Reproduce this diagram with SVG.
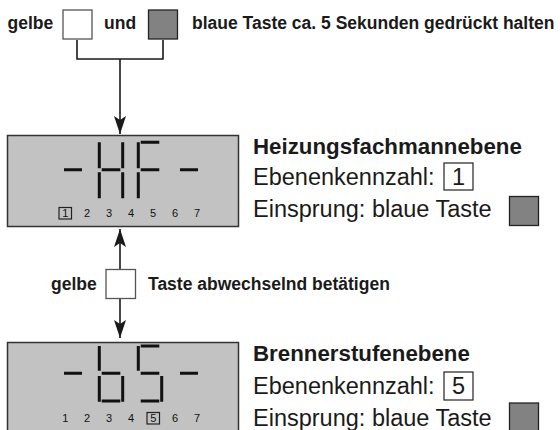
<svg xmlns="http://www.w3.org/2000/svg" width="560" height="430" viewBox="0 0 560 430">
<style>
.b{font-family:"Liberation Sans",Arial,sans-serif;font-weight:bold;fill:#1a1a1a}
.r{font-family:"Liberation Sans",Arial,sans-serif;fill:#1a1a1a}
.s{font-size:17.5px}
.h{font-size:22.3px}
.t{font-size:23.5px}
.d{font-family:"Liberation Sans",Arial,sans-serif;font-size:11px;fill:#111;text-anchor:middle}
.lcd{fill:#c2c2c2;stroke:#333;stroke-width:1.5}
.seg{stroke:#111;stroke-width:3;fill:none}
.yk{fill:#fff;stroke:#555;stroke-width:1.3}
.bk{fill:#828282;stroke:#222;stroke-width:1.3}
.nb{fill:#fff;stroke:#222;stroke-width:1.2}
.sb{fill:none;stroke:#222;stroke-width:1.2}
.con{stroke:#1a1a1a;stroke-width:1.6;fill:none}
</style>
<defs>
<marker id="ah" markerUnits="userSpaceOnUse" viewBox="0 0 18 12" markerWidth="18" markerHeight="12" refX="18" refY="6" orient="auto">
<path d="M0,0 L18,6 L0,12 L4,6 z" fill="#1a1a1a"/>
</marker>
</defs>

<g id="top-instruction">
<text class="b s" x="7.5" y="29">gelbe</text>
<rect id="yellow-key-top" class="yk" x="63" y="10" width="29" height="29"/>
<text class="b s" x="104" y="29">und</text>
<rect id="blue-key-top" class="bk" x="148.5" y="10" width="29" height="29"/>
<text class="b s" x="192" y="29">blaue Taste ca. 5 Sekunden gedrückt halten</text>
</g>

<g id="connectors">
<path class="con" d="M77,40 V59 H163 V40"/>
<path class="con" d="M120,59 V134" marker-end="url(#ah)"/>
<path class="con" d="M120,269 V229" marker-end="url(#ah)"/>
<path class="con" d="M120,298 V338" marker-end="url(#ah)"/>
</g>

<g id="lcd-hf">
<rect class="lcd" x="7.5" y="135.5" width="231" height="91"/>
<path class="seg" d="M64,169.7 H82 M99.3,142.3 V168.3 M99.3,172.3 V198.3 M101.7,169.7 H120.3 M122.7,142.3 V168.3 M122.7,172.3 V198.3 M138.3,142.3 V168.3 M138.3,172.3 V198.3 M140.7,142.3 H159.3 M140.7,169.7 H159.3 M180,169.7 H198"/>
<rect class="sb" x="59" y="207.5" width="12.5" height="11.5"/>
<text class="d" x="65.3" y="217">1</text>
<text class="d" x="87" y="217">2</text>
<text class="d" x="109" y="217">3</text>
<text class="d" x="131" y="217">4</text>
<text class="d" x="153" y="217">5</text>
<text class="d" x="175" y="217">6</text>
<text class="d" x="197" y="217">7</text>
</g>

<g id="info-hf">
<text class="b h" x="253" y="153.5">Heizungsfachmannebene</text>
<text class="r t" x="253" y="185">Ebenenkennzahl:</text>
<rect class="nb" x="444" y="163" width="29" height="27"/>
<text class="r t" x="458.5" y="185" text-anchor="middle">1</text>
<text class="r t" x="253" y="217">Einsprung: blaue Taste</text>
<rect class="bk" x="509.5" y="196.5" width="29" height="29"/>
</g>

<g id="middle-instruction">
<text class="b s" x="51" y="290">gelbe</text>
<rect id="yellow-key-mid" class="yk" x="106" y="269.5" width="29.5" height="29"/>
<text class="b s" x="148" y="290">Taste abwechselnd betätigen</text>
</g>

<g id="lcd-bs">
<rect class="lcd" x="7.5" y="342.5" width="231" height="100"/>
<path class="seg" d="M64,373.3 H82 M99.3,346 V370.7 M99.3,376 V401.7 M101.7,373.3 H120.3 M101.7,401 H120.3 M122.7,376 V401.7 M140.7,346 H159.3 M138.3,346 V370.7 M140.7,373.3 H159.3 M161.7,376 V401.7 M140.7,401 H159.3 M180,373.3 H198"/>
<text class="d" x="65.3" y="422">1</text>
<text class="d" x="87" y="422">2</text>
<text class="d" x="109" y="422">3</text>
<text class="d" x="131" y="422">4</text>
<rect class="sb" x="147" y="412.5" width="12.5" height="11.5"/>
<text class="d" x="153.2" y="422">5</text>
<text class="d" x="175" y="422">6</text>
<text class="d" x="197" y="422">7</text>
</g>

<g id="info-bs">
<text class="b h" x="253" y="361">Brennerstufenebene</text>
<text class="r t" x="253" y="393.5">Ebenenkennzahl:</text>
<rect class="nb" x="444" y="372" width="29" height="28"/>
<text class="r t" x="458.5" y="393.5" text-anchor="middle">5</text>
<text class="r t" x="253" y="426">Einsprung: blaue Taste</text>
<rect class="bk" x="509.5" y="403" width="29" height="30"/>
</g>
</svg>
